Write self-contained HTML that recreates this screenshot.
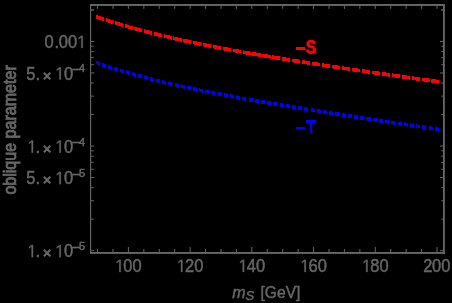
<!DOCTYPE html>
<html><head><meta charset="utf-8"><title>plot</title>
<style>
html,body{margin:0;padding:0;background:#000;}
body{width:452px;height:303px;overflow:hidden;}
svg{display:block;}
text{font-family:"Liberation Sans",sans-serif;fill:#666666;stroke:#666666;stroke-width:0.45;}
</style></head><body>
<svg width="452" height="303" viewBox="0 0 452 303">
<defs><filter id="idf" x="0" y="0" width="452" height="303" filterUnits="userSpaceOnUse" color-interpolation-filters="sRGB"><feOffset dx="0" dy="0"/></filter></defs>
<rect x="0" y="0" width="452" height="303" fill="#000"/>
<path d="M96,15h2v4h-2zM98,16h1v3h-1zM99,16h2v4h-2zM101,17h1v3h-1zM102,17h2v4h-2zM106,18h1v4h-1zM107,19h1v3h-1zM108,19h2v4h-2zM110,20h1v3h-1zM111,20h2v4h-2zM115,21h2v4h-2zM117,22h1v3h-1zM118,22h2v4h-2zM120,23h1v3h-1zM121,23h2v4h-2zM125,24h2v4h-2zM127,25h1v3h-1zM128,25h2v4h-2zM130,26h1v3h-1zM131,26h2v4h-2zM134,27h1v3h-1zM135,27h2v4h-2zM137,28h2v3h-2zM139,28h2v4h-2zM141,29h1v3h-1zM144,29h1v4h-1zM145,30h1v3h-1zM146,30h3v4h-3zM149,31h1v3h-1zM150,31h2v4h-2zM154,32h3v4h-3zM157,33h1v3h-1zM158,33h3v4h-3zM161,34h1v3h-1zM164,34h1v4h-1zM165,35h2v3h-2zM167,35h3v4h-3zM170,36h1v3h-1zM171,36h1v4h-1zM173,36h1v4h-1zM174,37h1v3h-1zM175,37h3v4h-3zM178,38h2v3h-2zM180,38h2v4h-2zM183,39h1v3h-1zM184,39h4v4h-4zM188,40h1v3h-1zM189,40h2v4h-2zM193,41h1v3h-1zM194,41h3v4h-3zM197,42h2v3h-2zM199,42h2v4h-2zM203,43h1v3h-1zM204,43h3v4h-3zM207,44h2v3h-2zM209,44h2v4h-2zM213,45h1v3h-1zM214,45h3v4h-3zM217,46h2v3h-2zM219,46h2v4h-2zM223,47h1v3h-1zM224,47h4v4h-4zM228,48h2v3h-2zM230,48h1v4h-1zM233,49h2v3h-2zM235,49h4v4h-4zM239,50h2v3h-2zM243,50h1v4h-1zM244,51h2v3h-2zM246,51h4v4h-4zM250,52h1v3h-1zM252,52h4v4h-4zM256,53h2v3h-2zM258,53h3v4h-3zM262,54h2v3h-2zM264,54h4v4h-4zM268,55h2v3h-2zM270,55h1v4h-1zM272,55h2v4h-2zM274,56h2v3h-2zM276,56h4v4h-4zM282,57h4v4h-4zM286,58h2v3h-2zM288,58h2v4h-2zM292,59h2v3h-2zM294,59h5v4h-5zM299,60h1v3h-1zM302,60h3v4h-3zM305,61h2v3h-2zM307,61h3v4h-3zM312,62h1v3h-1zM313,62h5v4h-5zM318,63h2v3h-2zM322,63h2v4h-2zM324,64h2v3h-2zM326,64h4v4h-4zM332,65h1v3h-1zM333,65h5v4h-5zM338,66h2v3h-2zM342,66h2v4h-2zM344,67h3v3h-3zM347,67h3v4h-3zM352,68h1v3h-1zM353,68h5v4h-5zM358,69h2v3h-2zM362,69h3v4h-3zM365,70h2v3h-2zM367,70h3v4h-3zM372,71h2v3h-2zM374,71h5v4h-5zM379,72h1v3h-1zM382,72h4v4h-4zM386,73h2v3h-2zM388,73h2v4h-2zM392,73h1v4h-1zM393,74h2v3h-2zM395,74h5v4h-5zM402,75h5v4h-5zM407,76h2v3h-2zM409,76h1v4h-1zM412,76h2v4h-2zM414,77h2v3h-2zM416,77h4v4h-4zM422,78h2v3h-2zM424,78h5v4h-5zM429,79h1v3h-1zM431,79h5v4h-5zM436,80h2v3h-2zM438,80h1v4h-1z" fill="#ff0000" stroke="none" shape-rendering="crispEdges"/>
<path d="M96,61h1v3h-1zM97,61h2v4h-2zM99,62h1v3h-1zM102,63h2v4h-2zM104,64h1v3h-1zM105,64h1v4h-1zM108,65h2v4h-2zM110,66h1v3h-1zM111,66h1v4h-1zM114,67h3v4h-3zM117,68h1v3h-1zM120,69h1v3h-1zM121,69h2v4h-2zM123,70h1v3h-1zM126,70h1v4h-1zM127,71h1v3h-1zM128,71h2v4h-2zM132,72h1v4h-1zM133,73h1v3h-1zM134,73h2v4h-2zM138,74h3v4h-3zM141,75h1v3h-1zM144,76h2v3h-2zM146,76h2v4h-2zM150,77h2v4h-2zM152,78h1v3h-1zM153,78h1v4h-1zM156,79h1v3h-1zM157,79h3v4h-3zM162,80h2v4h-2zM164,81h1v3h-1zM165,81h1v4h-1zM168,82h2v3h-2zM170,82h2v4h-2zM175,83h2v4h-2zM177,84h1v3h-1zM178,84h1v4h-1zM181,84h1v4h-1zM182,85h1v3h-1zM183,85h2v4h-2zM187,86h1v3h-1zM188,86h3v4h-3zM193,87h3v4h-3zM196,88h1v3h-1zM199,88h1v4h-1zM200,89h2v3h-2zM202,89h1v4h-1zM205,90h2v3h-2zM207,90h2v4h-2zM211,91h1v3h-1zM212,91h3v4h-3zM218,92h3v4h-3zM221,93h1v3h-1zM224,93h2v4h-2zM226,94h1v3h-1zM227,94h1v4h-1zM230,94h1v4h-1zM231,95h2v3h-2zM233,95h1v4h-1zM236,95h1v4h-1zM237,96h1v3h-1zM238,96h2v4h-2zM242,97h2v3h-2zM244,97h2v4h-2zM249,98h4v4h-4zM255,99h4v4h-4zM261,100h4v4h-4zM267,101h4v4h-4zM273,102h4v4h-4zM280,103h3v4h-3zM283,104h1v3h-1zM286,104h3v4h-3zM289,105h1v3h-1zM292,105h3v4h-3zM295,106h1v3h-1zM298,106h3v4h-3zM301,107h1v3h-1zM304,107h3v4h-3zM307,108h1v3h-1zM311,108h2v4h-2zM313,109h2v3h-2zM317,109h3v4h-3zM320,110h1v3h-1zM323,110h3v4h-3zM326,111h1v3h-1zM329,111h3v4h-3zM332,112h1v3h-1zM335,112h4v4h-4zM342,113h3v4h-3zM345,114h1v3h-1zM348,114h4v4h-4zM354,115h4v4h-4zM360,116h4v4h-4zM366,117h1v3h-1zM367,117h4v4h-4zM373,118h1v3h-1zM374,118h3v4h-3zM379,119h1v3h-1zM380,119h3v4h-3zM385,120h2v3h-2zM387,120h2v4h-2zM391,121h2v3h-2zM393,121h2v4h-2zM398,122h2v3h-2zM400,122h2v4h-2zM404,122h1v4h-1zM405,123h2v3h-2zM407,123h1v4h-1zM410,123h1v4h-1zM411,124h2v3h-2zM413,124h1v4h-1zM416,124h2v4h-2zM418,125h2v3h-2zM422,125h3v4h-3zM425,126h1v3h-1zM429,126h3v4h-3zM432,127h1v3h-1zM435,127h3v4h-3zM438,128h1v3h-1z" fill="#0000ff" stroke="none" shape-rendering="crispEdges"/>
<g fill="#666666" stroke="none">
<rect x="90.0" y="4.0" width="1.15" height="249.90"/>
<rect x="443.0" y="4.0" width="1.85" height="249.90"/>
<rect x="90.0" y="4.0" width="354.85" height="1.95"/>
<rect x="90.0" y="252.0" width="354.85" height="1.90"/>
</g>
<g stroke="#666666" stroke-width="1" fill="none">
<path d="M97.54,252.0 v-3.0 M97.54,5.95 v2.9 M112.97,252.0 v-3.0 M112.97,5.95 v2.9 M128.40,252.0 v-5.0 M128.40,5.95 v2.9 M143.83,252.0 v-3.0 M143.83,5.95 v2.9 M159.26,252.0 v-3.0 M159.26,5.95 v2.9 M174.69,252.0 v-3.0 M174.69,5.95 v2.9 M190.12,252.0 v-5.0 M190.12,5.95 v2.9 M205.55,252.0 v-3.0 M205.55,5.95 v2.9 M220.98,252.0 v-3.0 M220.98,5.95 v2.9 M236.41,252.0 v-3.0 M236.41,5.95 v2.9 M251.84,252.0 v-5.0 M251.84,5.95 v2.9 M267.27,252.0 v-3.0 M267.27,5.95 v2.9 M282.70,252.0 v-3.0 M282.70,5.95 v2.9 M298.13,252.0 v-3.0 M298.13,5.95 v2.9 M313.56,252.0 v-5.0 M313.56,5.95 v2.9 M328.99,252.0 v-3.0 M328.99,5.95 v2.9 M344.42,252.0 v-3.0 M344.42,5.95 v2.9 M359.85,252.0 v-3.0 M359.85,5.95 v2.9 M375.28,252.0 v-5.0 M375.28,5.95 v2.9 M390.71,252.0 v-3.0 M390.71,5.95 v2.9 M406.14,252.0 v-3.0 M406.14,5.95 v2.9 M421.57,252.0 v-3.0 M421.57,5.95 v2.9 M437.00,252.0 v-5.0 M437.00,5.95 v2.9 M91.15,250.65 h3.2 M443.0,250.65 h-3.0 M91.15,219.16 h2.7 M443.0,219.16 h-1.7 M91.15,200.74 h2.7 M443.0,200.74 h-1.7 M91.15,187.67 h2.7 M443.0,187.67 h-1.7 M91.15,177.54 h3.2 M443.0,177.54 h-3.0 M91.15,169.26 h2.7 M443.0,169.26 h-1.7 M91.15,162.25 h2.7 M443.0,162.25 h-1.7 M91.15,156.19 h2.7 M443.0,156.19 h-1.7 M91.15,150.84 h2.7 M443.0,150.84 h-1.7 M91.15,146.05 h3.2 M443.0,146.05 h-3.0 M91.15,114.56 h2.7 M443.0,114.56 h-1.7 M91.15,96.14 h2.7 M443.0,96.14 h-1.7 M91.15,83.07 h2.7 M443.0,83.07 h-1.7 M91.15,72.94 h3.2 M443.0,72.94 h-3.0 M91.15,64.66 h2.7 M443.0,64.66 h-1.7 M91.15,57.65 h2.7 M443.0,57.65 h-1.7 M91.15,51.59 h2.7 M443.0,51.59 h-1.7 M91.15,46.24 h2.7 M443.0,46.24 h-1.7 M91.15,41.45 h3.2 M443.0,41.45 h-3.0 M91.15,9.96 h2.7 M443.0,9.96 h-1.7 M91.15,9.96 h2.7 M443.0,9.96 h-1.7"/>
</g>
<g filter="url(#idf)">
<path d="M582,0V1237L264,1010V1180L597,1409H763V0Z" transform="translate(114.55,272.00) scale(0.00806,-0.00870)" fill="#666666" stroke="#666666" stroke-width="0.3" vector-effect="non-scaling-stroke"/><text font-size="16.5" transform="translate(0,272.00) scale(1,1.08)" x="123.35 132.55" y="0">00</text>
<path d="M582,0V1237L264,1010V1180L597,1409H763V0Z" transform="translate(176.27,272.00) scale(0.00806,-0.00870)" fill="#666666" stroke="#666666" stroke-width="0.3" vector-effect="non-scaling-stroke"/><text font-size="16.5" transform="translate(0,272.00) scale(1,1.08)" x="185.07 194.27" y="0">20</text>
<path d="M582,0V1237L264,1010V1180L597,1409H763V0Z" transform="translate(237.99,272.00) scale(0.00806,-0.00870)" fill="#666666" stroke="#666666" stroke-width="0.3" vector-effect="non-scaling-stroke"/><text font-size="16.5" transform="translate(0,272.00) scale(1,1.08)" x="246.79 255.99" y="0">40</text>
<path d="M582,0V1237L264,1010V1180L597,1409H763V0Z" transform="translate(299.71,272.00) scale(0.00806,-0.00870)" fill="#666666" stroke="#666666" stroke-width="0.3" vector-effect="non-scaling-stroke"/><text font-size="16.5" transform="translate(0,272.00) scale(1,1.08)" x="308.51 317.71" y="0">60</text>
<path d="M582,0V1237L264,1010V1180L597,1409H763V0Z" transform="translate(361.43,272.00) scale(0.00806,-0.00870)" fill="#666666" stroke="#666666" stroke-width="0.3" vector-effect="non-scaling-stroke"/><text font-size="16.5" transform="translate(0,272.00) scale(1,1.08)" x="370.23 379.43" y="0">80</text>
<text font-size="16.5" transform="translate(0,272.00) scale(1,1.08)" x="423.15 431.95 441.15" y="0">200</text>
<path d="M582,0V1237L264,1010V1180L597,1409H763V0Z" transform="translate(76.60,48.05) scale(0.00806,-0.00870)" fill="#666666" stroke="#666666" stroke-width="0.3" vector-effect="non-scaling-stroke"/><text font-size="16.5" transform="translate(0,48.05) scale(1,1.08)" x="44.40 54.50 58.85 68.05" y="0">0.00</text>
<path d="M582,0V1237L264,1010V1180L597,1409H763V0Z" transform="translate(54.70,79.54) scale(0.00806,-0.00870)" fill="#666666" stroke="#666666" stroke-width="0.3" vector-effect="non-scaling-stroke"/><text font-size="16.5" transform="translate(0,79.54) scale(1,1.08)" x="26.24 35.60 63.95" y="0">5.0</text><text font-size="15" x="42.8" y="80.64" style="stroke-width:0.95">×</text><text font-size="16.5" x="71.6" y="75.04">−</text><text font-size="11" x="79.1" y="72.44">4</text>
<path d="M582,0V1237L264,1010V1180L597,1409H763V0Z" transform="translate(26.90,152.65) scale(0.00806,-0.00870)" fill="#666666" stroke="#666666" stroke-width="0.3" vector-effect="non-scaling-stroke"/><path d="M582,0V1237L264,1010V1180L597,1409H763V0Z" transform="translate(54.70,152.65) scale(0.00806,-0.00870)" fill="#666666" stroke="#666666" stroke-width="0.3" vector-effect="non-scaling-stroke"/><text font-size="16.5" transform="translate(0,152.65) scale(1,1.08)" x="35.60 63.95" y="0">.0</text><text font-size="15" x="42.8" y="153.75" style="stroke-width:0.95">×</text><text font-size="16.5" x="71.6" y="148.15">−</text><text font-size="11" x="79.1" y="145.55">4</text>
<path d="M582,0V1237L264,1010V1180L597,1409H763V0Z" transform="translate(54.70,184.14) scale(0.00806,-0.00870)" fill="#666666" stroke="#666666" stroke-width="0.3" vector-effect="non-scaling-stroke"/><text font-size="16.5" transform="translate(0,184.14) scale(1,1.08)" x="26.24 35.60 63.95" y="0">5.0</text><text font-size="15" x="42.8" y="185.24" style="stroke-width:0.95">×</text><text font-size="16.5" x="71.6" y="179.64">−</text><text font-size="11" x="79.1" y="177.04">5</text>
<path d="M582,0V1237L264,1010V1180L597,1409H763V0Z" transform="translate(26.90,257.25) scale(0.00806,-0.00870)" fill="#666666" stroke="#666666" stroke-width="0.3" vector-effect="non-scaling-stroke"/><path d="M582,0V1237L264,1010V1180L597,1409H763V0Z" transform="translate(54.70,257.25) scale(0.00806,-0.00870)" fill="#666666" stroke="#666666" stroke-width="0.3" vector-effect="non-scaling-stroke"/><text font-size="16.5" transform="translate(0,257.25) scale(1,1.08)" x="35.60 63.95" y="0">.0</text><text font-size="15" x="42.8" y="258.35" style="stroke-width:0.95">×</text><text font-size="16.5" x="71.6" y="252.75">−</text><text font-size="11" x="79.1" y="250.15">5</text>
<text font-size="16" transform="translate(15.8,194.6) rotate(-90) scale(1.004,1.1)" x="0" y="0" style="stroke-width:0.8">oblique parameter</text>
<text font-size="16" y="297.6"><tspan x="232.2" font-style="italic">m</tspan><tspan font-style="italic" font-size="13" dy="2.7">S</tspan></text>
<text font-size="16" transform="translate(260.5,297.7) scale(0.975,1.08)" x="0" y="0">[GeV]</text>
</g>
<g fill="#ff0000" stroke="none" shape-rendering="crispEdges">
<rect x="296" y="46.8" width="9.1" height="3"/>
<path transform="translate(305.798,53.464) scale(0.007661,-0.009310)" d="M1286 406Q1286 199 1132.5 89.5Q979 -20 682 -20Q411 -20 257.0 76.0Q103 172 59 367L344 414Q373 302 457.0 251.5Q541 201 690 201Q999 201 999 389Q999 449 963.5 488.0Q928 527 863.5 553.0Q799 579 616 616Q458 653 396.0 675.5Q334 698 284.0 728.5Q234 759 199.0 802.0Q164 845 144.5 903.0Q125 961 125 1036Q125 1227 268.5 1328.5Q412 1430 686 1430Q948 1430 1079.5 1348.0Q1211 1266 1249 1077L963 1038Q941 1129 873.5 1175.0Q806 1221 680 1221Q412 1221 412 1053Q412 998 440.5 963.0Q469 928 525.0 903.5Q581 879 752 842Q955 799 1042.5 762.5Q1130 726 1181.0 677.5Q1232 629 1259.0 561.5Q1286 494 1286 406Z" stroke="#ff0000" stroke-width="0.9" vector-effect="non-scaling-stroke" stroke-linejoin="round"/>
</g>
<g fill="#0000ff" stroke="none" shape-rendering="crispEdges">
<rect x="296" y="126.9" width="9.1" height="2.2"/>
<rect x="305.9" y="120" width="10.2" height="2.9"/>
<rect x="309.9" y="120" width="2.2" height="12.95"/>
</g>
</svg></body></html>
